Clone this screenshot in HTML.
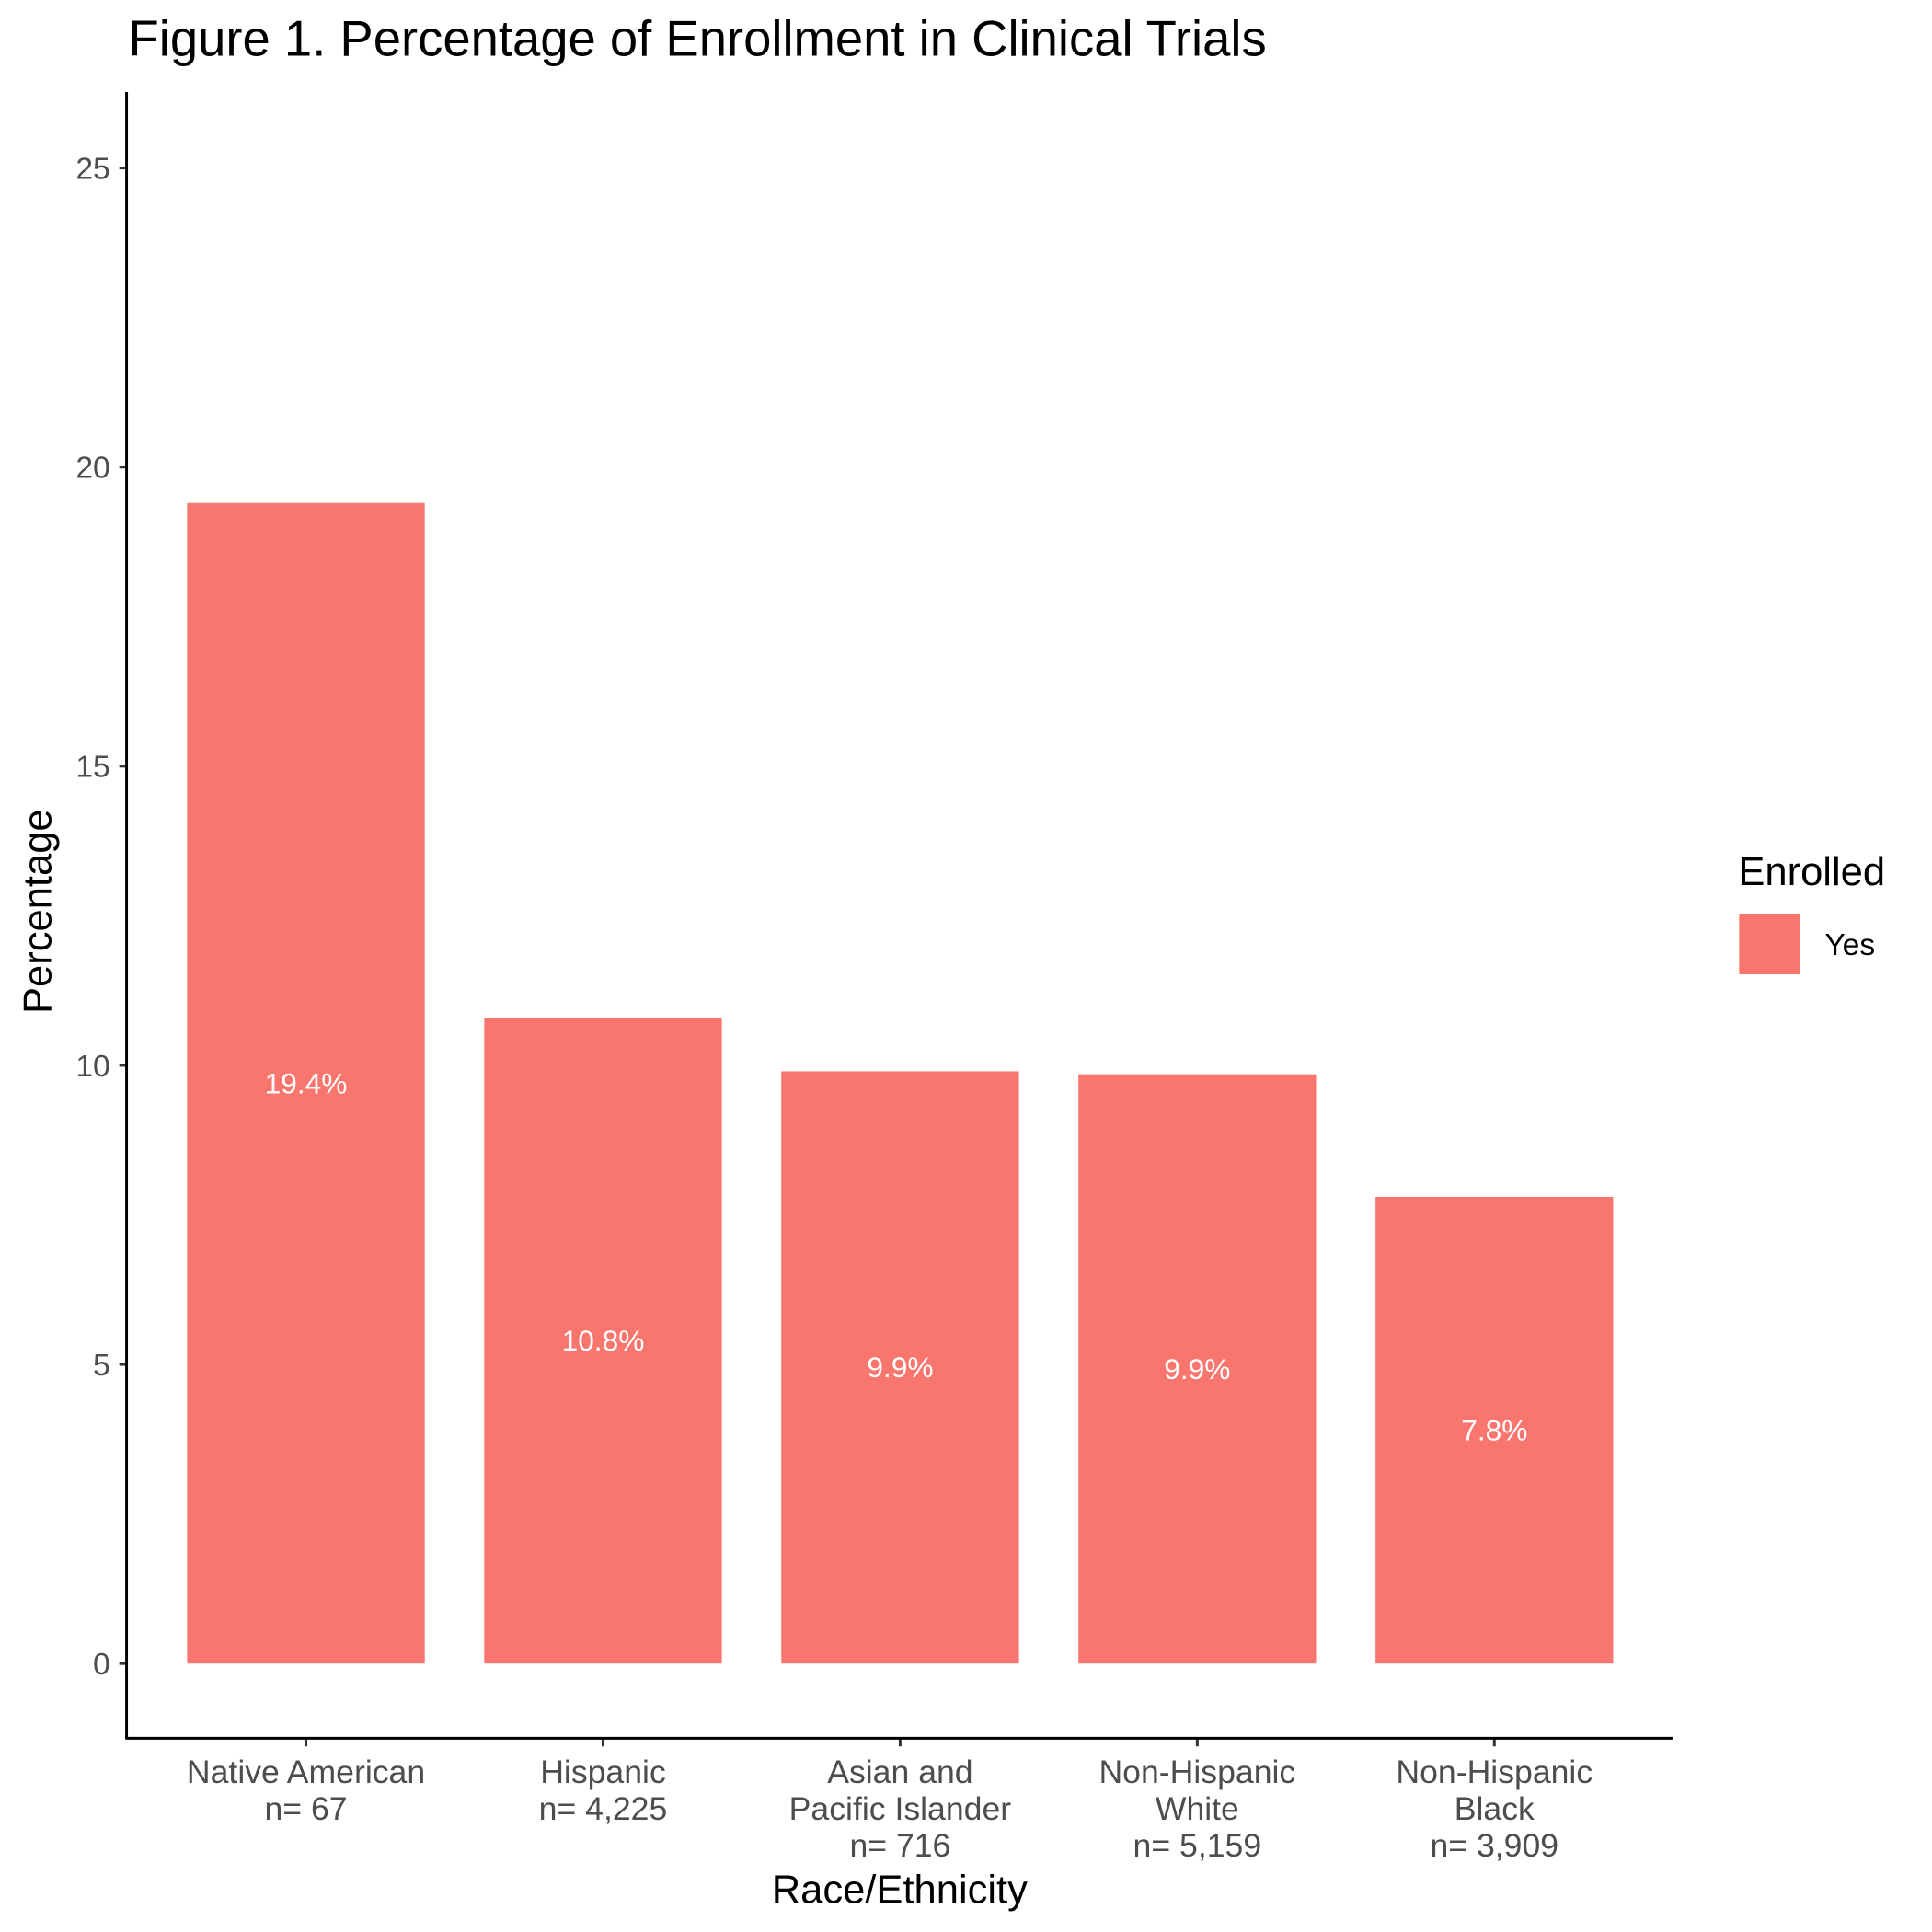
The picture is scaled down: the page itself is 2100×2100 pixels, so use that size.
<!DOCTYPE html>
<html><head><meta charset="utf-8"><style>html,body{margin:0;padding:0;background:#fff}svg{display:block}</style></head>
<body>
<svg width="2100" height="2100" xmlns="http://www.w3.org/2000/svg" font-family="Liberation Sans, sans-serif">
<g transform="scale(0.9897)">
<text x="141" y="61" font-size="55" fill="#000">Figure 1. Percentage of Enrollment in Clinical Trials</text>
<g id="bars"></g>
<g id="yaxis"></g>
<g id="xaxis"></g>
<line x1="139" y1="101" x2="139" y2="1910" stroke="#000" stroke-width="3"/>
<line x1="138" y1="1909" x2="1837" y2="1909" stroke="#000" stroke-width="3"/>
<text transform="translate(56,1001) rotate(-90)" text-anchor="middle" font-size="44" fill="#000">Percentage</text>
<text x="988" y="2090" text-anchor="middle" font-size="44" fill="#000">Race/Ethnicity</text>
<text x="1909" y="972" font-size="44" fill="#000">Enrolled</text>
<rect x="1910" y="1004" width="67" height="66" fill="#F8766D"/>
<text x="2004" y="1049" font-size="34" fill="#000">Yes</text>
</g>
</svg>
<script>
const categories = [["Native American","n= 67"],["Hispanic","n= 4,225"],["Asian and","Pacific Islander","n= 716"],["Non-Hispanic","White","n= 5,159"],["Non-Hispanic","Black","n= 3,909"]];
const values = [19.4, 10.8, 9.9, 9.85, 7.8];
const valueLabels = ["19.4%","10.8%","9.9%","9.9%","7.8%"];
const yTicks = [0,5,10,15,20,25];
const NS="http://www.w3.org/2000/svg";
const y0=1827, pxPerUnit=65.7;
function yScale(v){return y0 - v*pxPerUnit;}
function xScale(i){return 336 + i*326.3;}
const barW=261;
function mk(t,a,p){const e=document.createElementNS(NS,t);for(const k in a)e.setAttribute(k,a[k]);p.appendChild(e);return e;}
const gb=document.getElementById('bars'), gy=document.getElementById('yaxis'), gx=document.getElementById('xaxis');
values.forEach((v,i)=>{
  const r=mk('rect',{x:xScale(i)-barW/2,y:yScale(v),width:barW,height:yScale(0)-yScale(v),fill:'#F8766D'},gb);
  
  
  const t=mk('text',{x:xScale(i),y:yScale(v/2)+11,'text-anchor':'middle','font-size':32,fill:'#fff'},gb);
  t.textContent=valueLabels[i];
  
  
});
yTicks.forEach(v=>{
  const l=mk('line',{x1:131,x2:139,y1:yScale(v),y2:yScale(v),stroke:'#333','stroke-width':3},gy);
  
  
  const t=mk('text',{x:121,y:yScale(v)+12,'text-anchor':'end','font-size':34,fill:'#4D4D4D'},gy);
  t.textContent=v;
  
  
});
categories.forEach((lines,i)=>{
  const l=mk('line',{x1:xScale(i),x2:xScale(i),y1:1909,y2:1918,stroke:'#333','stroke-width':3},gx);
  
  
  lines.forEach((s,j)=>{
    const t=mk('text',{x:xScale(i),y:1958+j*40.5,'text-anchor':'middle','font-size':36,fill:'#4D4D4D'},gx);
    t.textContent=s;
    
    
  });
});
</script>
</body></html>
